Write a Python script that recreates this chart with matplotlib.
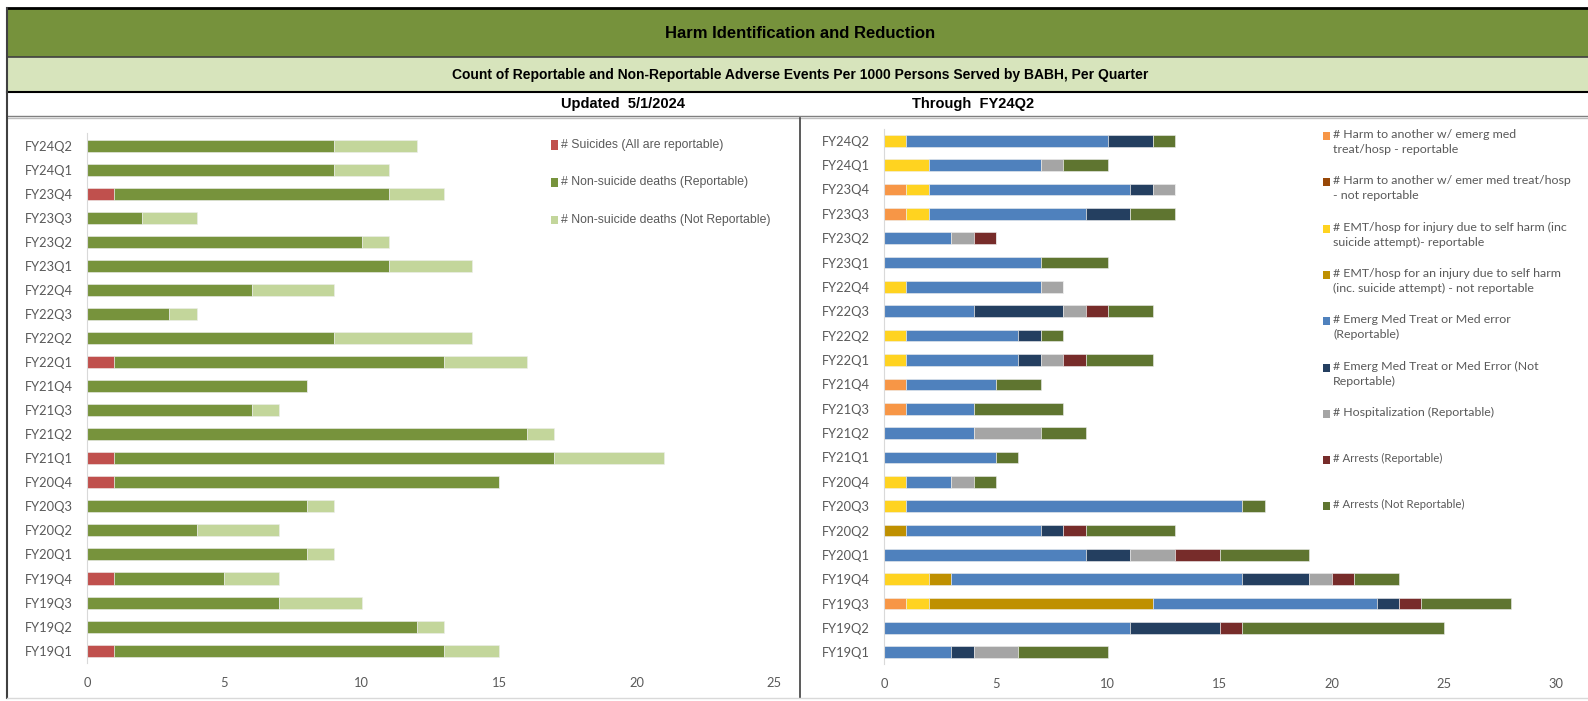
import matplotlib.pyplot as plt
from matplotlib.patches import Rectangle
from matplotlib.lines import Line2D

# quarters, top to bottom as in the chart
quarters = ['FY24Q2', 'FY24Q1', 'FY23Q4', 'FY23Q3', 'FY23Q2', 'FY23Q1', 'FY22Q4', 'FY22Q3',
            'FY22Q2', 'FY22Q1', 'FY21Q4', 'FY21Q3', 'FY21Q2', 'FY21Q1', 'FY20Q4', 'FY20Q3',
            'FY20Q2', 'FY20Q1', 'FY19Q4', 'FY19Q3', 'FY19Q2', 'FY19Q1']

# left chart - deaths
suicides = [0, 0, 1, 0, 0, 0, 0, 0, 0, 1, 0, 0, 0, 1, 1, 0, 0, 0, 1, 0, 0, 1]
deaths_rep = [9, 9, 10, 2, 10, 11, 6, 3, 9, 12, 8, 6, 16, 16, 14, 8, 4, 8, 4, 7, 12, 12]
deaths_nr = [3, 2, 2, 2, 1, 3, 3, 1, 5, 3, 0, 1, 1, 4, 0, 1, 3, 1, 2, 3, 1, 2]

left_labels = ['# Suicides (All are reportable)',
               '# Non-suicide deaths (Reportable)',
               '# Non-suicide deaths (Not Reportable)']
left_colors = ['#C0504D', '#77933C', '#C3D69B']

# right chart - other harm events
harm_rep = [0, 0, 1, 1, 0, 0, 0, 0, 0, 0, 1, 1, 0, 0, 0, 0, 0, 0, 0, 1, 0, 0]
harm_nr = [0, 0, 0, 0, 0, 0, 0, 0, 0, 0, 0, 0, 0, 0, 0, 0, 0, 0, 0, 0, 0, 0]
emt_rep = [1, 2, 1, 1, 0, 0, 1, 0, 1, 1, 0, 0, 0, 0, 1, 1, 0, 0, 2, 1, 0, 0]
emt_nr = [0, 0, 0, 0, 0, 0, 0, 0, 0, 0, 0, 0, 0, 0, 0, 0, 1, 0, 1, 10, 0, 0]
emerg_rep = [9, 5, 9, 7, 3, 7, 6, 4, 5, 5, 4, 3, 4, 5, 2, 15, 6, 9, 13, 10, 11, 3]
emerg_nr = [2, 0, 1, 2, 0, 0, 0, 4, 1, 1, 0, 0, 0, 0, 0, 0, 1, 2, 3, 1, 4, 1]
hosp = [0, 1, 1, 0, 1, 0, 1, 1, 0, 1, 0, 0, 3, 0, 1, 0, 0, 2, 1, 0, 0, 2]
arrests_rep = [0, 0, 0, 0, 1, 0, 0, 1, 0, 1, 0, 0, 0, 0, 0, 0, 1, 2, 1, 1, 1, 0]
arrests_nr = [1, 2, 0, 2, 0, 3, 0, 2, 1, 3, 2, 4, 2, 1, 1, 1, 4, 4, 2, 4, 9, 4]

right_labels = ['# Harm to another w/ emerg med\ntreat/hosp - reportable',
                '# Harm to another w/ emer med treat/hosp\n- not reportable',
                '# EMT/hosp for injury due to self harm (inc\nsuicide attempt)- reportable',
                '# EMT/hosp for an injury due to self harm\n(inc. suicide attempt) - not reportable',
                '# Emerg Med Treat or Med error\n(Reportable)',
                '# Emerg Med Treat or Med Error (Not\nReportable)',
                '# Hospitalization (Reportable)',
                '# Arrests (Reportable)',
                '# Arrests (Not Reportable)']
right_colors = ['#F79646', '#984807', '#FFD320', '#BF9000', '#4F81BD',
                '#243F60', '#A5A5A5', '#772C2A', '#5F7530']

W, H = 1588, 701
fig = plt.figure(figsize=(W / 100, H / 100), dpi=100)
TICK_FONT = ['Lato', 'DejaVu Sans']
NARROW = ['Liberation Sans Narrow', 'Liberation Sans', 'DejaVu Sans']


def fx(px):
    return px / W


def fy(py):
    return 1 - py / H


def frect(x0, y0, x1, y1, **kw):
    fig.add_artist(Rectangle((fx(x0), fy(y1)), fx(x1) - fx(x0), fy(y0) - fy(y1),
                             transform=fig.transFigure, **kw))


def fline(x0, y0, x1, y1, **kw):
    fig.add_artist(Line2D([fx(x0), fx(x1)], [fy(y0), fy(y1)], transform=fig.transFigure, **kw))


# header bands
frect(7, 8, W, 57, facecolor='#76923C', edgecolor='none')
frect(7, 57, W, 91, facecolor='#D7E4BC', edgecolor='none')
fline(7, 8, W, 8, color='black', lw=2)
fline(7, 57, W, 57, color='#404040', lw=1.2)
fline(7, 91.5, W, 91.5, color='black', lw=1.5)
fline(7, 116, W, 116, color='#7F7F7F', lw=1)
fline(7, 118, W, 118, color='#BFBFBF', lw=1)
fline(7, 8, 7, 698, color='#404040', lw=1.5)
fline(800, 118, 800, 698, color='#404040', lw=1.2)
fline(7, 698, W, 698, color='#D9D9D9', lw=1)

fig.text(fx(800), fy(33), 'Harm Identification and Reduction', family=NARROW,
         weight='bold', fontsize=12, ha='center', va='center')
fig.text(fx(800), fy(75), 'Count of Reportable and Non-Reportable Adverse Events Per 1000 Persons Served by BABH, Per Quarter',
         family=NARROW, weight='bold', fontsize=10, ha='center', va='center')
fig.text(fx(623), fy(104), 'Updated  5/1/2024', family=NARROW, weight='bold',
         fontsize=10.5, ha='center', va='center')
fig.text(fx(973), fy(104), 'Through  FY24Q2', family=NARROW, weight='bold',
         fontsize=10.5, ha='center', va='center')


def style_axes(ax, xmax, step):
    ax.set_xlim(0, xmax)
    ax.set_ylim(len(quarters) - 0.5, -0.5)
    ax.set_yticks(range(len(quarters)))
    ax.set_yticklabels(quarters)
    ax.set_xticks(range(0, xmax + 1, step))
    for s in ['top', 'right', 'bottom']:
        ax.spines[s].set_visible(False)
    ax.spines['left'].set_color('#D9D9D9')
    ax.tick_params(length=0, colors='#595959', labelsize=9.3)
    ax.tick_params(axis='y', pad=10)
    ax.tick_params(axis='x', pad=10)
    for t in ax.get_xticklabels() + ax.get_yticklabels():
        t.set_family(TICK_FONT)
    ax.patch.set_alpha(0)


# left chart
axl = fig.add_axes([fx(87), fy(662.7), fx(774) - fx(87), fy(133.5) - fy(662.7)])
y = list(range(len(quarters)))
left = [0] * len(quarters)
for vals, col, lab in zip([suicides, deaths_rep, deaths_nr], left_colors, left_labels):
    axl.barh(y, vals, left=left, height=0.5, color=col, edgecolor='#EEEEEE', linewidth=0.4, label=lab)
    left = [a + b for a, b in zip(left, vals)]
style_axes(axl, 25, 5)

for i, (lab, col) in enumerate(zip(left_labels, left_colors)):
    yy = 145 + i * 37.5
    frect(551, yy - 4.5, 558, yy + 4.5, facecolor=col, edgecolor='none')
    fig.text(fx(561), fy(yy), lab, family=NARROW, fontsize=8.8, color='#595959',
             ha='left', va='center')

# right chart
axr = fig.add_axes([fx(884), fy(664.5), fx(1555.7) - fx(884), fy(128.6) - fy(664.5)])
series = [harm_rep, harm_nr, emt_rep, emt_nr, emerg_rep, emerg_nr, hosp, arrests_rep, arrests_nr]
left = [0] * len(quarters)
for vals, col, lab in zip(series, right_colors, right_labels):
    axr.barh(y, vals, left=left, height=0.48, color=col, edgecolor='#EEEEEE', linewidth=0.4, label=lab)
    left = [a + b for a, b in zip(left, vals)]
style_axes(axr, 30, 5)

for i, (lab, col) in enumerate(zip(right_labels, right_colors)):
    yy = 136 + i * 46.3
    frect(1323, yy - 4, 1330, yy + 4, facecolor=col, edgecolor='none')
    fontsize = 8.9 if i < 7 else 8.2
    fig.text(fx(1333), fy(yy - 7), lab, family=TICK_FONT, fontsize=fontsize, color='#595959',
             ha='left', va='top', linespacing=1.45)

fig.savefig('out.png', dpi=100)
